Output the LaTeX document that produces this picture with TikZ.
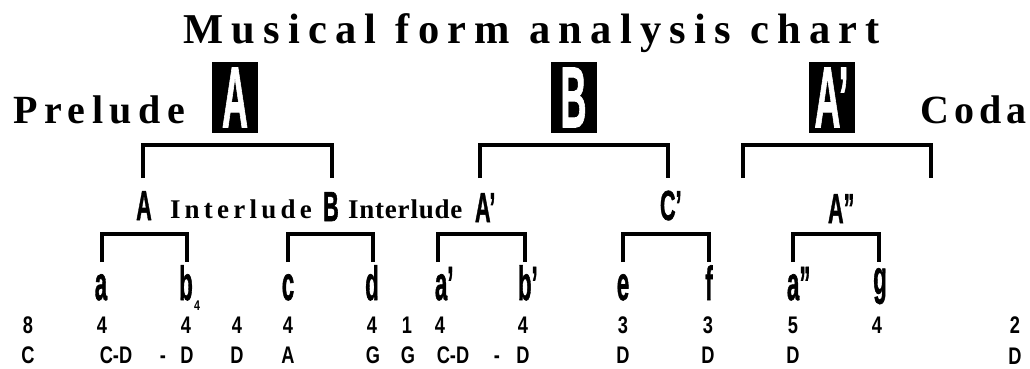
\documentclass[tikz,border=0pt]{standalone}
\usepackage{fontspec}
\usepackage{graphicx}
\newfontfamily\titlef{Liberation Serif}[LetterSpace=19.5]
\newfontfamily\sidef{Liberation Serif}[LetterSpace=16.5]
\newfontfamily\codaf{Liberation Serif}[LetterSpace=13]
\newfontfamily\intf{Liberation Serif}[LetterSpace=15.7]
\newfontfamily\intg{Liberation Serif}[LetterSpace=3]
\newfontfamily\hf{Liberation Sans Bold}[FakeBold=1.5]
\newfontfamily\nf{Liberation Sans Bold}[FakeStretch=0.76]
\newcommand\imp[1]{\scalebox{0.74}[1.6]{\fontsize{30}{30}\selectfont\hf #1}}
\newcommand\impc[1]{\scalebox{0.72}[1.4]{\fontsize{30}{30}\selectfont\hf #1}}
\newcommand\impb[1]{\scalebox{0.75}[1.8]{\fontsize{48}{48}\selectfont\hf #1}}
\begin{document}
\begin{tikzpicture}[x=1pt,y=-1pt,
  br1/.style={line width=4.5pt,line join=miter},
  br2/.style={line width=4pt,line join=miter},
  lab/.style={inner sep=0pt,outer sep=0pt},
  secbox/.style={fill=black,text=white,minimum width=46pt,minimum height=71pt,inner sep=0pt},
  num/.style={inner sep=0pt,anchor=base,font=\fontsize{24}{24}\selectfont\nf}]
\fill[white] (0,0) rectangle (1030,369);
\useasboundingbox (0,0) rectangle (1030,369);
% top row
\node[lab,anchor=base west] (title) at (183,44) {\fontsize{42.5}{42.5}\titlef\bfseries Musical form analysis chart};
\node[lab,anchor=base west] (prelude) at (13,123) {\fontsize{40}{40}\sidef\bfseries Prelude};
\node[lab,anchor=base west] (coda) at (920,123) {\fontsize{40}{40}\codaf\bfseries Coda};
\node[secbox] (boxA) at (235,97.5) {\impb{A}};
\node[secbox] (boxB) at (573.5,97.5) {\impb{B}};
\node[secbox] (boxAp) at (831.5,97.5) {\impb{A’}};
% level 1 brackets
\coordinate (fA1) at (143,178); \coordinate (fA2) at (332,178);
\coordinate (fB1) at (480,178); \coordinate (fB2) at (668,178);
\coordinate (fC1) at (743,178); \coordinate (fC2) at (931,178);
\draw[br1] (fA1) -- ++(0,-33) -| (fA2);
\draw[br1] (fB1) -- ++(0,-33) -| (fB2);
\draw[br1] (fC1) -- ++(0,-33) -| (fC2);
% level 2 labels
\node[lab,anchor=base] (mA) at (144,220) {\impc{A}};
\node[lab,anchor=base west] (int1) at (170,218) {\fontsize{27}{27}\intf\bfseries Interlude};
\node[lab,anchor=base] (mB) at (331,221) {\impc{B}};
\node[lab,anchor=base west] (int2) at (348,218) {\fontsize{27}{27}\intg\bfseries Interlude};
\node[lab,anchor=base west] (mAp) at (475,222) {\impc{A’}};
\node[lab,anchor=base west] (mCp) at (660,220) {\impc{C’}};
\node[lab,anchor=base west] (mApp) at (828,223) {\impc{A”}};
% level 2 brackets
\coordinate (g11) at (102,262); \coordinate (g12) at (187,262);
\coordinate (g21) at (288,262); \coordinate (g22) at (373,262);
\coordinate (g31) at (438,262); \coordinate (g32) at (525,262);
\coordinate (g41) at (623,262); \coordinate (g42) at (709,262);
\coordinate (g51) at (793,262); \coordinate (g52) at (879,262);
\foreach \i in {1,...,5} {\draw[br2] (g\i1) -- ++(0,-28) -| (g\i2);}
% leaves
\node[lab,anchor=base] (la) at (101,300) {\imp{a}};
\node[lab,anchor=base] (lb) at (186,300) {\imp{b}};
\node[lab,anchor=base] (lb4) at (197,310) {\fontsize{14}{14}\selectfont\nf 4};
\node[lab,anchor=base] (lc) at (288,300) {\imp{c}};
\node[lab,anchor=base] (ld) at (372,300) {\imp{d}};
\node[lab,anchor=base west] (lap) at (435,300) {\imp{a’}};
\node[lab,anchor=base west] (lbp) at (518,300) {\imp{b’}};
\node[lab,anchor=base] (le) at (623,300) {\imp{e}};
\node[lab,anchor=base] (lf) at (709,300) {\imp{f}};
\node[lab,anchor=base west] (lapp) at (787,300) {\imp{a”}};
\node[lab,anchor=base] (lg) at (880,294) {\imp{g}};
% numbers row
\foreach \x/\t [count=\k] in {28/8,102/4,186/4,237/4,288/4,372/4,407/1,440/4,523/4,623/3,708/3,793/5,877/4,1015/2}
  \node[num] (n\k) at (\x,333) {\t};
% keys row
\foreach \x/\t [count=\k] in {28/C,116/C-D,163/-,187/D,237/D,288/A,373/G,408/G,453/C-D,497/-,523/D,623/D,708/D,793/D}
  \node[num] (k\k) at (\x,363) {\t};
\node[num] (k15) at (1015,364.5) {D};
\end{tikzpicture}
\end{document}
